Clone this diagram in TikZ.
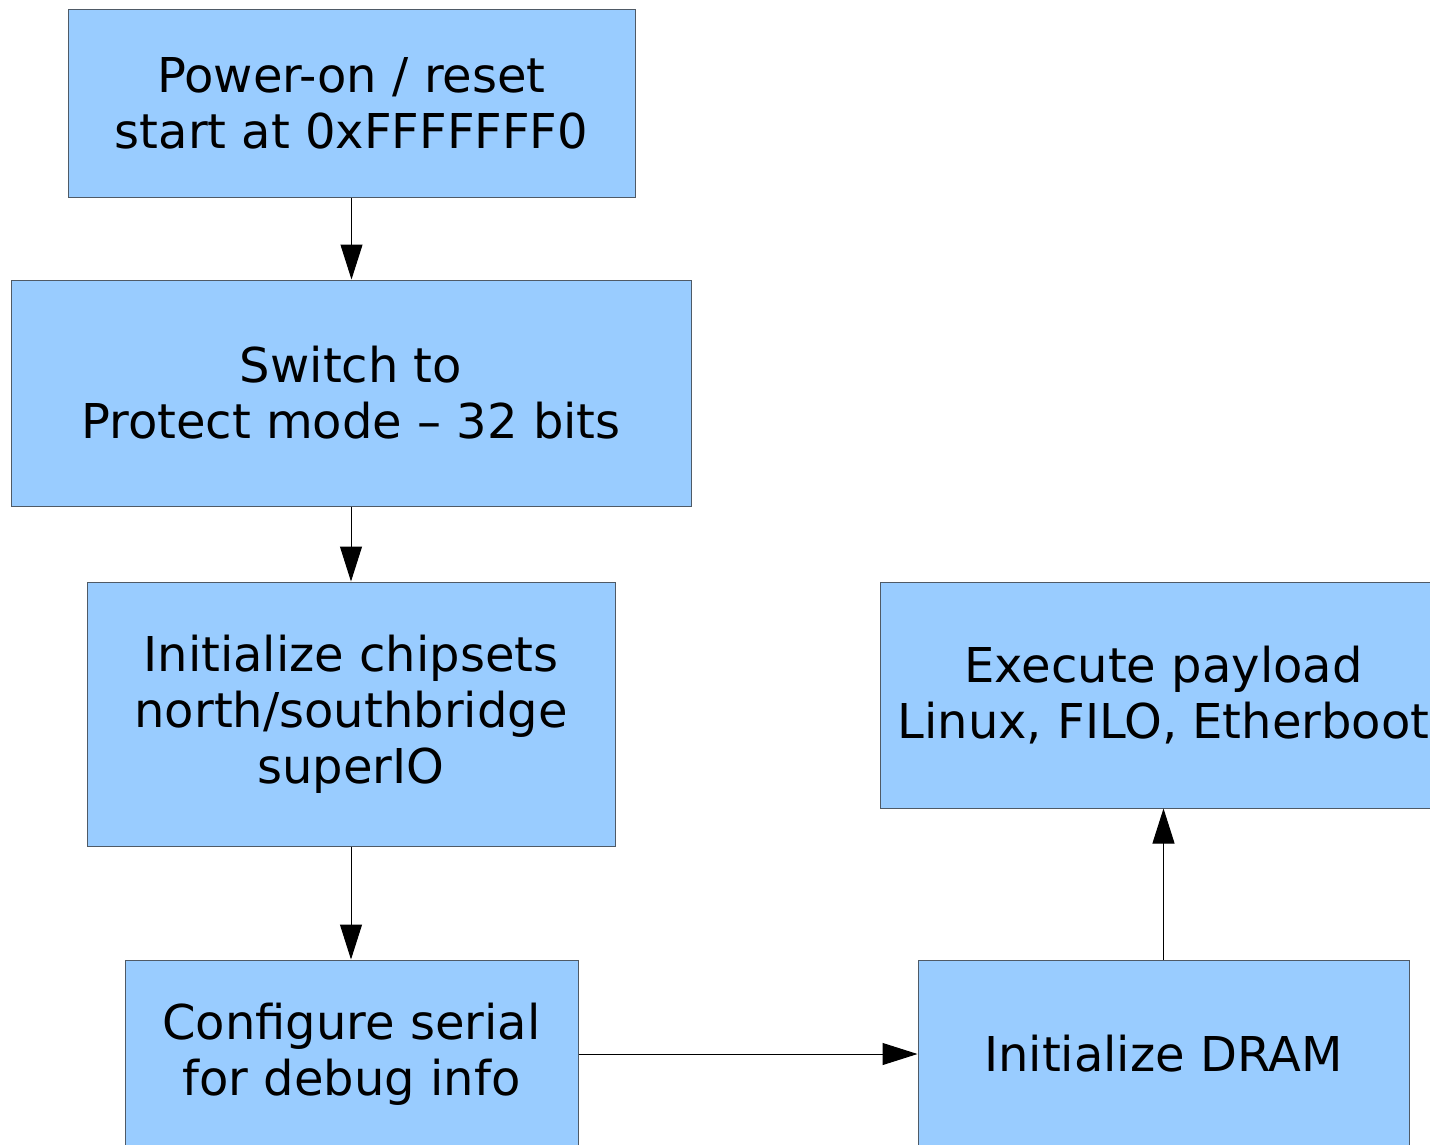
\documentclass[tikz,border=0pt]{standalone}
\usepackage{fontspec}
\setmainfont{DejaVu Sans}
\usetikzlibrary{arrows.meta}
\definecolor{boxfill}{HTML}{99CCFF}
\definecolor{boxline}{HTML}{4F5A66}
\tikzset{
  stepbox/.style={draw=boxline, fill=boxfill, line width=1pt, inner sep=0pt,
    align=center, font=\fontsize{48}{56}\selectfont, text=black},
  flow/.style={draw=black, line width=1pt, -{Triangle[length=35pt,width=22pt]}}
}
\begin{document}
\begin{tikzpicture}[x=1pt, y=-1pt]
  \clip (0,0) rectangle (1430,1144);
  \useasboundingbox (0,0) rectangle (1430,1144);
  % boot steps, left column
  \node[stepbox, minimum width=567pt, minimum height=188pt] (power) at (351.5,103)
    {Power-on / reset\\start at 0xFFFFFFF0};
  \node[stepbox, minimum width=680pt, minimum height=226pt] (pmode) at (351,393)
    {Switch to\\Protect mode – 32 bits};
  \node[stepbox, minimum width=528pt, minimum height=264pt] (chipset) at (351,714)
    {Initialize chipsets\\north/southbridge\\superIO};
  \node[stepbox, minimum width=453pt, minimum height=188pt] (serial) at (351.5,1054)
    {Configure serial\\for debug info};
  % right column
  \node[stepbox, minimum width=491pt, minimum height=188pt] (dram) at (1163.5,1054)
    {Initialize DRAM};
  \node[stepbox, minimum width=567pt, minimum height=226pt] (payload) at (1163.5,695)
    {Execute payload\\Linux, FILO, Etherboot};
  % flow
  \draw[flow] (power.south) -- (power.south |- pmode.north);
  \draw[flow] (pmode.south) -- (pmode.south |- chipset.north);
  \draw[flow] (chipset.south) -- (chipset.south |- serial.north);
  \draw[flow] (serial.east) -- (dram.west);
  \draw[flow] (dram.north) -- (payload.south);
\end{tikzpicture}
\end{document}
